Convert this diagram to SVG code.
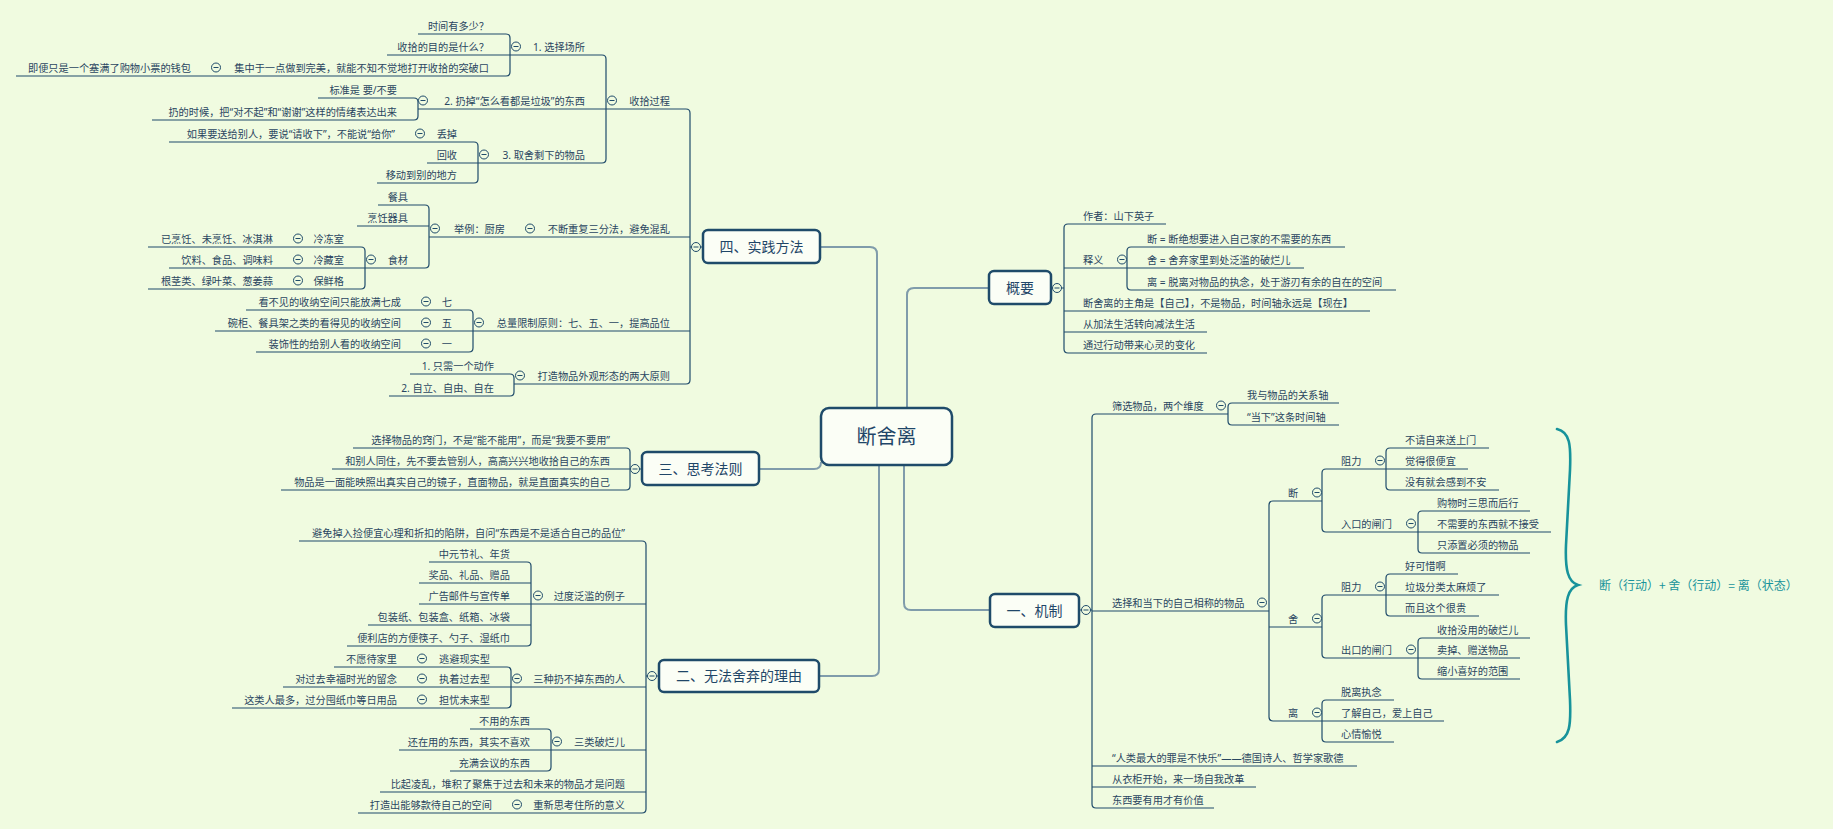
<svg xmlns="http://www.w3.org/2000/svg" width="1833" height="829" viewBox="0 0 1833 829">
<style>
text{font-family:"Noto Sans","Noto Sans CJK SC",sans-serif;font-size:10.2px;fill:#2a4661}
.l{text-anchor:end}
.m{font-family:"Noto Sans CJK SC",sans-serif;font-size:14px;text-anchor:middle;fill:#1f4668}
.ln{fill:none;stroke:#1f4b6a;stroke-width:1.2}
.mc{fill:none;stroke:#809cab;stroke-width:2}
.box{fill:#fbfef6;stroke:#1f4b6a;stroke-width:2.5}
.col circle{fill:#f0fbe0;stroke:#1f4b6a;stroke-width:1}
.col line{stroke:#1f4b6a;stroke-width:1}
</style>
<defs>
<g id="col" class="col"><circle r="4.5"/><line x1="-2.5" y1="0" x2="2.5" y2="0"/></g>
</defs>
<rect width="1833" height="829" fill="#f0fbe0"/>

<g id="connectors">
<path class="mc" d="M820,247 H870 Q877,247 877,254 V408"/>
<path class="mc" d="M989,288 H914 Q907,288 907,295 V408"/>
<path class="mc" d="M759,469 H814 Q821,469 821,462"/>
<path class="mc" d="M819,676 H872 Q879,676 879,669 V465"/>
<path class="mc" d="M990,610 H911 Q904,610 904,603 V465"/>
<path class="ln" d="M606,109 H686 Q690,109 690,113 V380 Q690,384 686,384 H514 M429,237 H690 M473,331 H690 M690,247 H703"/>
<path class="ln" d="M510,55 H602 Q606,55 606,59 V159 Q606,163 602,163 H478 M418,109 H606"/>
<path class="ln" d="M418,34 H506 Q510,34 510,38 V72 Q510,76 506,76 H16 M387,55 H510"/>
<path class="ln" d="M318,98 H414 Q418,98 418,102 V116 Q418,120 414,120 H152"/>
<path class="ln" d="M169,142 H474 Q478,142 478,146 V179 Q478,183 474,183 H377 M427,163 H478"/>
<path class="ln" d="M378,205 H425 Q429,205 429,209 V264 Q429,268 425,268 H365 M357,226 H429"/>
<path class="ln" d="M148,247 H361 Q365,247 365,251 V285 Q365,289 361,289 H148 M169,268 H365"/>
<path class="ln" d="M246,310 H469 Q473,310 473,314 V348 Q473,352 469,352 H256 M215,331 H473"/>
<path class="ln" d="M410,374 H510 Q514,374 514,378 V392 Q514,396 510,396 H389"/>
<path class="ln" d="M353,448 H626 Q630,448 630,452 V486 Q630,490 626,490 H281 M332,469 H630 M630,469 H642"/>
<path class="ln" d="M299,541 H642 Q646,541 646,545 V809 Q646,813 642,813 H358 M531,604 H646 M511,687 H646 M551,750 H646 M380,792 H646 M646,676 H659"/>
<path class="ln" d="M429,562 H527 Q531,562 531,566 V642 Q531,646 527,646 H347 M419,583 H531 M419,604 H531 M368,625 H531"/>
<path class="ln" d="M334,667 H507 Q511,667 511,671 V704 Q511,708 507,708 H232 M283,687 H511"/>
<path class="ln" d="M470,729 H547 Q551,729 551,733 V767 Q551,771 547,771 H450 M399,750 H551"/>
<path class="ln" d="M1166,224 H1068 Q1064,224 1064,228 V349 Q1064,353 1068,353 H1207 M1127,268 H1064 M1370,311 H1064 M1207,332 H1064 M1051,288 H1064"/>
<path class="ln" d="M1345,247 H1131 Q1127,247 1127,251 V286 Q1127,290 1131,290 H1396 M1304,268 H1127"/>
<path class="ln" d="M1228,414 H1096 Q1092,414 1092,418 V804 Q1092,808 1096,808 H1214 M1269,611 H1092 M1357,766 H1092 M1256,787 H1092 M1079,610 H1092"/>
<path class="ln" d="M1339,403 H1232 Q1228,403 1228,407 V421 Q1228,425 1232,425 H1339"/>
<path class="ln" d="M1322,501 H1273 Q1269,501 1269,505 V717 Q1269,721 1273,721 H1322 M1322,627 H1269"/>
<path class="ln" d="M1386,469 H1326 Q1322,469 1322,473 V528 Q1322,532 1326,532 H1418"/>
<path class="ln" d="M1489,448 H1390 Q1386,448 1386,452 V486 Q1386,490 1390,490 H1499 M1468,469 H1386"/>
<path class="ln" d="M1530,511 H1422 Q1418,511 1418,515 V549 Q1418,553 1422,553 H1530 M1551,532 H1418"/>
<path class="ln" d="M1386,595 H1326 Q1322,595 1322,599 V654 Q1322,658 1326,658 H1418"/>
<path class="ln" d="M1458,574 H1390 Q1386,574 1386,578 V612 Q1386,616 1390,616 H1479 M1499,595 H1386"/>
<path class="ln" d="M1530,638 H1422 Q1418,638 1418,642 V675 Q1418,679 1422,679 H1520 M1520,658 H1418"/>
<path class="ln" d="M1394,700 H1326 Q1322,700 1322,704 V738 Q1322,742 1326,742 H1394 M1444,721 H1322"/>
</g>

<g id="center"><rect class="box" x="821" y="408" width="131" height="57" rx="8"/><text x="886.5" y="444" class="m" style="font-size:20px">断舍离</text></g>

<g id="main-4"><rect class="box" x="703" y="230" width="117" height="33" rx="5"/><text x="761.5" y="251.5" class="m">四、实践方法</text><use href="#col" x="696" y="247"/></g>
<g id="main-3"><rect class="box" x="642" y="452" width="117" height="33" rx="5"/><text x="700.5" y="473.5" class="m">三、思考法则</text><use href="#col" x="635" y="469"/></g>
<g id="main-2"><rect class="box" x="659" y="660" width="160" height="32" rx="5"/><text x="739" y="681" class="m">二、无法舍弃的理由</text><use href="#col" x="652" y="676"/></g>
<g id="main-0"><rect class="box" x="989" y="271" width="62" height="33" rx="5"/><text x="1020" y="292.5" class="m">概要</text><use href="#col" x="1057" y="288"/></g>
<g id="main-1"><rect class="box" x="990" y="594" width="89" height="33" rx="5"/><text x="1034.5" y="615.5" class="m">一、机制</text><use href="#col" x="1086" y="610"/></g>

<g id="n4a"><text class="l" x="670" y="104.5">收拾过程</text><use href="#col" x="612" y="100.5"/></g>
<g id="n4a1"><text class="l" x="585" y="50.5">1. 选择场所</text><use href="#col" x="516" y="46.5"/></g>
<g id="n4a1a"><text class="l" x="489" y="29.5">时间有多少？</text></g>
<g id="n4a1b"><text class="l" x="489" y="50.5">收拾的目的是什么？</text></g>
<g id="n4a1c"><text class="l" x="489" y="71.5">集中于一点做到完美，就能不知不觉地打开收拾的突破口</text><use href="#col" x="216" y="67.5"/></g>
<g id="n4a1c1"><text class="l" x="191" y="71.5">即便只是一个塞满了购物小票的钱包</text></g>
<g id="n4a2"><text class="l" x="585" y="104.5">2. 扔掉“怎么看都是垃圾”的东西</text><use href="#col" x="423" y="100.5"/></g>
<g id="n4a2a"><text class="l" x="397" y="93.5">标准是 要/不要</text></g>
<g id="n4a2b"><text class="l" x="397" y="115.5">扔的时候，把“对不起”和“谢谢”这样的情绪表达出来</text></g>
<g id="n4a3"><text class="l" x="585" y="158.5">3. 取舍剩下的物品</text><use href="#col" x="484" y="154.5"/></g>
<g id="n4a3a"><text class="l" x="457" y="137.5">丢掉</text><use href="#col" x="420" y="133.5"/></g>
<g id="n4a3a1"><text class="l" x="395" y="137.5">如果要送给别人，要说“请收下”，不能说“给你”</text></g>
<g id="n4a3b"><text class="l" x="457" y="158.5">回收</text></g>
<g id="n4a3c"><text class="l" x="457" y="178.5">移动到别的地方</text></g>
<g id="n4b"><text class="l" x="670" y="232.5">不断重复三分法，避免混乱</text><use href="#col" x="530" y="228.5"/></g>
<g id="n4b1"><text class="l" x="505" y="232.5">举例：厨房</text><use href="#col" x="435" y="228.5"/></g>
<g id="n4b1a"><text class="l" x="408" y="200.5">餐具</text></g>
<g id="n4b1b"><text class="l" x="408" y="221.5">烹饪器具</text></g>
<g id="n4b1c"><text class="l" x="408" y="263.5">食材</text><use href="#col" x="371" y="259.5"/></g>
<g id="n4b1c1"><text class="l" x="344" y="242.5">冷冻室</text><use href="#col" x="298" y="238.5"/><text class="l" x="273" y="242.5">已烹饪、未烹饪、冰淇淋</text></g>
<g id="n4b1c2"><text class="l" x="344" y="263.5">冷藏室</text><use href="#col" x="298" y="259.5"/><text class="l" x="273" y="263.5">饮料、食品、调味料</text></g>
<g id="n4b1c3"><text class="l" x="344" y="284.5">保鲜格</text><use href="#col" x="298" y="280.5"/><text class="l" x="273" y="284.5">根茎类、绿叶菜、葱姜蒜</text></g>
<g id="n4c"><text class="l" x="670" y="326.5">总量限制原则：七、五、一，提高品位</text><use href="#col" x="479" y="322.5"/></g>
<g id="n4c1"><text class="l" x="452" y="305.5">七</text><use href="#col" x="426" y="301.5"/><text class="l" x="401" y="305.5">看不见的收纳空间只能放满七成</text></g>
<g id="n4c2"><text class="l" x="452" y="326.5">五</text><use href="#col" x="426" y="322.5"/><text class="l" x="401" y="326.5">碗柜、餐具架之类的看得见的收纳空间</text></g>
<g id="n4c3"><text class="l" x="452" y="347.5">一</text><use href="#col" x="426" y="343.5"/><text class="l" x="401" y="347.5">装饰性的给别人看的收纳空间</text></g>
<g id="n4d"><text class="l" x="670" y="379.5">打造物品外观形态的两大原则</text><use href="#col" x="520" y="375.5"/></g>
<g id="n4d1"><text class="l" x="494" y="369.5">1. 只需一个动作</text></g>
<g id="n4d2"><text class="l" x="494" y="391.5">2. 自立、自由、自在</text></g>

<g id="n3a"><text class="l" x="610" y="443.5">选择物品的窍门，不是“能不能用”，而是“我要不要用”</text></g>
<g id="n3b"><text class="l" x="610" y="464.5">和别人同住，先不要去管别人，高高兴兴地收拾自己的东西</text></g>
<g id="n3c"><text class="l" x="610" y="485.5">物品是一面能映照出真实自己的镜子，直面物品，就是直面真实的自己</text></g>

<g id="n2a"><text class="l" x="625" y="536.5">避免掉入捡便宜心理和折扣的陷阱，自问“东西是不是适合自己的品位”</text></g>
<g id="n2b"><text class="l" x="625" y="599.5">过度泛滥的例子</text><use href="#col" x="538" y="595.5"/></g>
<g id="n2b1"><text class="l" x="510" y="557.5">中元节礼、年货</text></g>
<g id="n2b2"><text class="l" x="510" y="578.5">奖品、礼品、赠品</text></g>
<g id="n2b3"><text class="l" x="510" y="599.5">广告邮件与宣传单</text></g>
<g id="n2b4"><text class="l" x="510" y="620.5">包装纸、包装盒、纸箱、冰袋</text></g>
<g id="n2b5"><text class="l" x="510" y="641.5">便利店的方便筷子、勺子、湿纸巾</text></g>
<g id="n2c"><text class="l" x="625" y="682.5">三种扔不掉东西的人</text><use href="#col" x="517" y="678.5"/></g>
<g id="n2c1"><text class="l" x="490" y="662.5">逃避现实型</text><use href="#col" x="422" y="658.5"/><text class="l" x="397" y="662.5">不愿待家里</text></g>
<g id="n2c2"><text class="l" x="490" y="682.5">执着过去型</text><use href="#col" x="422" y="678.5"/><text class="l" x="397" y="682.5">对过去幸福时光的留念</text></g>
<g id="n2c3"><text class="l" x="490" y="703.5">担忧未来型</text><use href="#col" x="422" y="699.5"/><text class="l" x="397" y="703.5">这类人最多，过分囤纸巾等日用品</text></g>
<g id="n2d"><text class="l" x="625" y="745.5">三类破烂儿</text><use href="#col" x="557" y="741.5"/></g>
<g id="n2d1"><text class="l" x="530" y="724.5">不用的东西</text></g>
<g id="n2d2"><text class="l" x="530" y="745.5">还在用的东西，其实不喜欢</text></g>
<g id="n2d3"><text class="l" x="530" y="766.5">充满会议的东西</text></g>
<g id="n2e"><text class="l" x="625" y="787.5">比起凌乱，堆积了聚焦于过去和未来的物品才是问题</text></g>
<g id="n2f"><text class="l" x="625" y="808.5">重新思考住所的意义</text><use href="#col" x="517" y="804.5"/><text class="l" x="492" y="808.5">打造出能够款待自己的空间</text></g>

<g id="n0a"><text x="1083" y="219.5">作者：山下英子</text></g>
<g id="n0b"><text x="1083" y="263.5">释义</text><use href="#col" x="1122" y="259.5"/></g>
<g id="n0b1"><text x="1147" y="242.5">断 = 断绝想要进入自己家的不需要的东西</text></g>
<g id="n0b2"><text x="1147" y="263.5">舍 = 舍弃家里到处泛滥的破烂儿</text></g>
<g id="n0b3"><text x="1147" y="285.5">离 = 脱离对物品的执念，处于游刃有余的自在的空间</text></g>
<g id="n0c"><text x="1083" y="306.5">断舍离的主角是【自己】，不是物品，时间轴永远是【现在】</text></g>
<g id="n0d"><text x="1083" y="327.5">从加法生活转向减法生活</text></g>
<g id="n0e"><text x="1083" y="348.5">通过行动带来心灵的变化</text></g>

<g id="n1a"><text x="1112" y="409.5">筛选物品，两个维度</text><use href="#col" x="1221" y="405.5"/></g>
<g id="n1a1"><text x="1247" y="398.5">我与物品的关系轴</text></g>
<g id="n1a2"><text x="1247" y="420.5">“当下”这条时间轴</text></g>
<g id="n1b"><text x="1112" y="606.5">选择和当下的自己相称的物品</text><use href="#col" x="1262" y="602.5"/></g>
<g id="n1b1"><text x="1288" y="496.5">断</text><use href="#col" x="1317" y="492.5"/></g>
<g id="n1b1a"><text x="1341" y="464.5">阻力</text><use href="#col" x="1380" y="460.5"/></g>
<g id="n1b1a1"><text x="1405" y="443.5">不请自来送上门</text></g>
<g id="n1b1a2"><text x="1405" y="464.5">觉得很便宜</text></g>
<g id="n1b1a3"><text x="1405" y="485.5">没有就会感到不安</text></g>
<g id="n1b1b"><text x="1341" y="527.5">入口的闸门</text><use href="#col" x="1411" y="523.5"/></g>
<g id="n1b1b1"><text x="1437" y="506.5">购物时三思而后行</text></g>
<g id="n1b1b2"><text x="1437" y="527.5">不需要的东西就不接受</text></g>
<g id="n1b1b3"><text x="1437" y="548.5">只添置必须的物品</text></g>
<g id="n1b2"><text x="1288" y="622.5">舍</text><use href="#col" x="1317" y="618.5"/></g>
<g id="n1b2a"><text x="1341" y="590.5">阻力</text><use href="#col" x="1380" y="586.5"/></g>
<g id="n1b2a1"><text x="1405" y="569.5">好可惜啊</text></g>
<g id="n1b2a2"><text x="1405" y="590.5">垃圾分类太麻烦了</text></g>
<g id="n1b2a3"><text x="1405" y="611.5">而且这个很贵</text></g>
<g id="n1b2b"><text x="1341" y="653.5">出口的闸门</text><use href="#col" x="1411" y="649.5"/></g>
<g id="n1b2b1"><text x="1437" y="633.5">收拾没用的破烂儿</text></g>
<g id="n1b2b2"><text x="1437" y="653.5">卖掉、赠送物品</text></g>
<g id="n1b2b3"><text x="1437" y="674.5">缩小喜好的范围</text></g>
<g id="n1b3"><text x="1288" y="716.5">离</text><use href="#col" x="1317" y="712.5"/></g>
<g id="n1b3a"><text x="1341" y="695.5">脱离执念</text></g>
<g id="n1b3b"><text x="1341" y="716.5">了解自己，爱上自己</text></g>
<g id="n1b3c"><text x="1341" y="737.5">心情愉悦</text></g>
<g id="n1c"><text x="1112" y="761.5">“人类最大的罪是不快乐”——德国诗人、哲学家歌德</text></g>
<g id="n1d"><text x="1112" y="782.5">从衣柜开始，来一场自我改革</text></g>
<g id="n1e"><text x="1112" y="803.5">东西要有用才有价值</text></g>

<g id="brace">
<path d="M1557,429 C1570,432 1571,445 1570,470 L1566,545 C1565,570 1568,582 1578,585 C1568,588 1565,600 1566,625 L1570,700 C1571,725 1570,738 1557,742" fill="none" stroke="#17939b" stroke-width="2.6" stroke-linecap="round"/>
<text x="1599" y="589.5" style="font-size:12px;fill:#17939b;font-family:'Noto Sans CJK SC',sans-serif">断（行动）+ 舍（行动）= 离（状态）</text>
</g>
</svg>
